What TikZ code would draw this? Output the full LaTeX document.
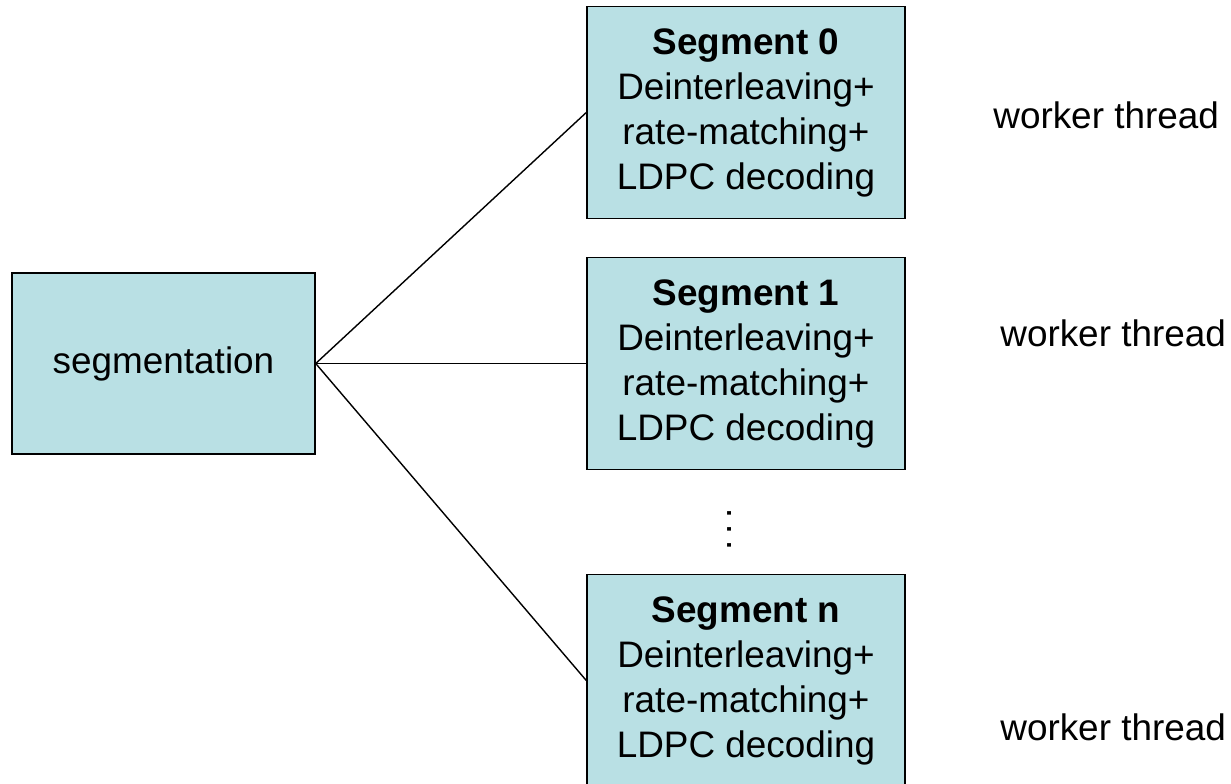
\documentclass[tikz,border=0pt]{standalone}
\usepackage{fontspec}
\setmainfont{Liberation Sans}
\usepackage{xcolor}
\usepackage{tikz}
\usetikzlibrary{positioning}
\definecolor{segfill}{HTML}{B9E0E4}

\begin{document}
\begin{tikzpicture}[
  x=0.02cm, y=-0.02cm,
  font=\fontsize{21}{25.6}\selectfont,
  blk/.style  ={draw=black, line width=0.85pt, fill=segfill, align=center, inner sep=0pt},
  seg/.style  ={blk, minimum width=6.36cm, minimum height=4.24cm},
  thr/.style  ={anchor=west, inner sep=0pt},
  ln/.style   ={black, line width=0.8pt}
]
\useasboundingbox (0,0) rectangle (1231,784);

% ---------- splitter ----------
\node[blk, minimum width=6.06cm, minimum height=3.62cm] (split) at (163.5,363.5) {segmentation};

% ---------- per-segment decoders ----------
\node[seg] (s0) at (746,112.5) {\textbf{Segment 0}\\Deinterleaving+\\rate-matching+\\LDPC decoding};
\node[seg] (s1) at (746,363.5) {\textbf{Segment 1}\\Deinterleaving+\\rate-matching+\\LDPC decoding};
\node[seg] (sn) at (746,680.5) {\textbf{Segment n}\\Deinterleaving+\\rate-matching+\\LDPC decoding};
\node[inner sep=0pt, rotate=90] (gap) at (730,529) {.\kern3.3pt.\kern3.3pt.};

\draw[ln] (split.east) -- (s0.west);
\draw[ln] (split.east) -- (s1.west);
\draw[ln] (split.east) -- (sn.west);

% ---------- thread labels ----------
\node[thr] (t0) at (993,115)  {worker thread};
\node[thr] (t1) at (1000,333) {worker thread};
\node[thr] (tn) at (1000,727) {worker thread};
\end{tikzpicture}
\end{document}
